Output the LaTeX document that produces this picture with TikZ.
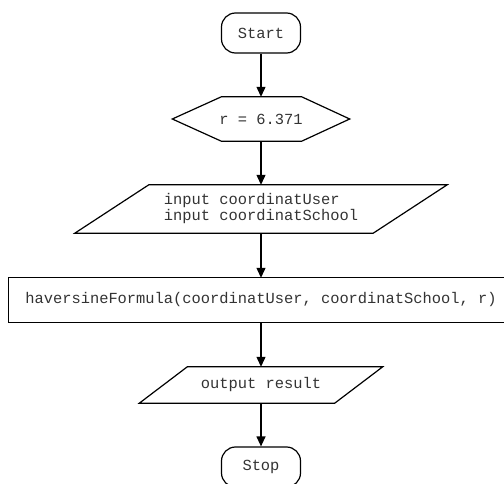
\documentclass[tikz,border=0pt]{standalone}
\usepackage{fontspec}
\setmonofont{Liberation Mono}
\usetikzlibrary{arrows.meta,calc}
\definecolor{txt}{HTML}{333333}
\begin{document}
\begin{tikzpicture}[x=1pt,y=-1pt,
  every node/.style={font=\ttfamily\fontsize{15.4}{16}\selectfont, text=txt, inner sep=0pt},
  outline/.style={line width=1.2pt, draw=black},
  flow/.style={line width=1.2pt, -{Triangle[length=10pt,width=9pt]}},
  terminal/.style={outline, rounded corners=14pt, minimum width=79pt, minimum height=40pt}]
\useasboundingbox (0,0) rectangle (504,484);

\node[terminal] (start) at (261,33) {Start};

\node[minimum width=177pt, minimum height=44pt] (hex) at (261,119) {r = 6.371};
\draw[outline] (hex.west) -- ($(hex.north west)+(49,0)$) -- ($(hex.north east)+(-48,0)$)
  -- (hex.east) -- ($(hex.south east)+(-48,0)$) -- ($(hex.south west)+(49,0)$) -- cycle;

\node[minimum width=298pt, minimum height=48pt, align=left] (in) at (261,209)
  {input coordinatUser\\input coordinatSchool};
\draw[outline] ($(in.south west)+(-37,0)$) -- ($(in.north west)+(37,0)$)
  -- ($(in.north east)+(37,0)$) -- ($(in.south east)+(-37,0)$) -- cycle;

\node[minimum width=504pt, minimum height=44pt] (calc) at (261,300) {haversineFormula(coordinatUser, coordinatSchool, r)};
\draw[outline] (calc.north west) rectangle ($(calc.south east)+(20,0)$);

\node[minimum width=195pt, minimum height=36pt] (out) at (261,385) {output result};
\draw[outline] ($(out.south west)+(-24,0)$) -- ($(out.north west)+(24,0)$)
  -- ($(out.north east)+(24,0)$) -- ($(out.south east)+(-24,0)$) -- cycle;

\node[terminal] (stop) at (261,467) {Stop};

\draw[flow] (start.south) -- (hex.north);
\draw[flow] (hex.south) -- (in.north);
\draw[flow] (in.south) -- (calc.north);
\draw[flow] (calc.south) -- (out.north);
\draw[flow] (out.south) -- (stop.north);
\end{tikzpicture}
\end{document}
